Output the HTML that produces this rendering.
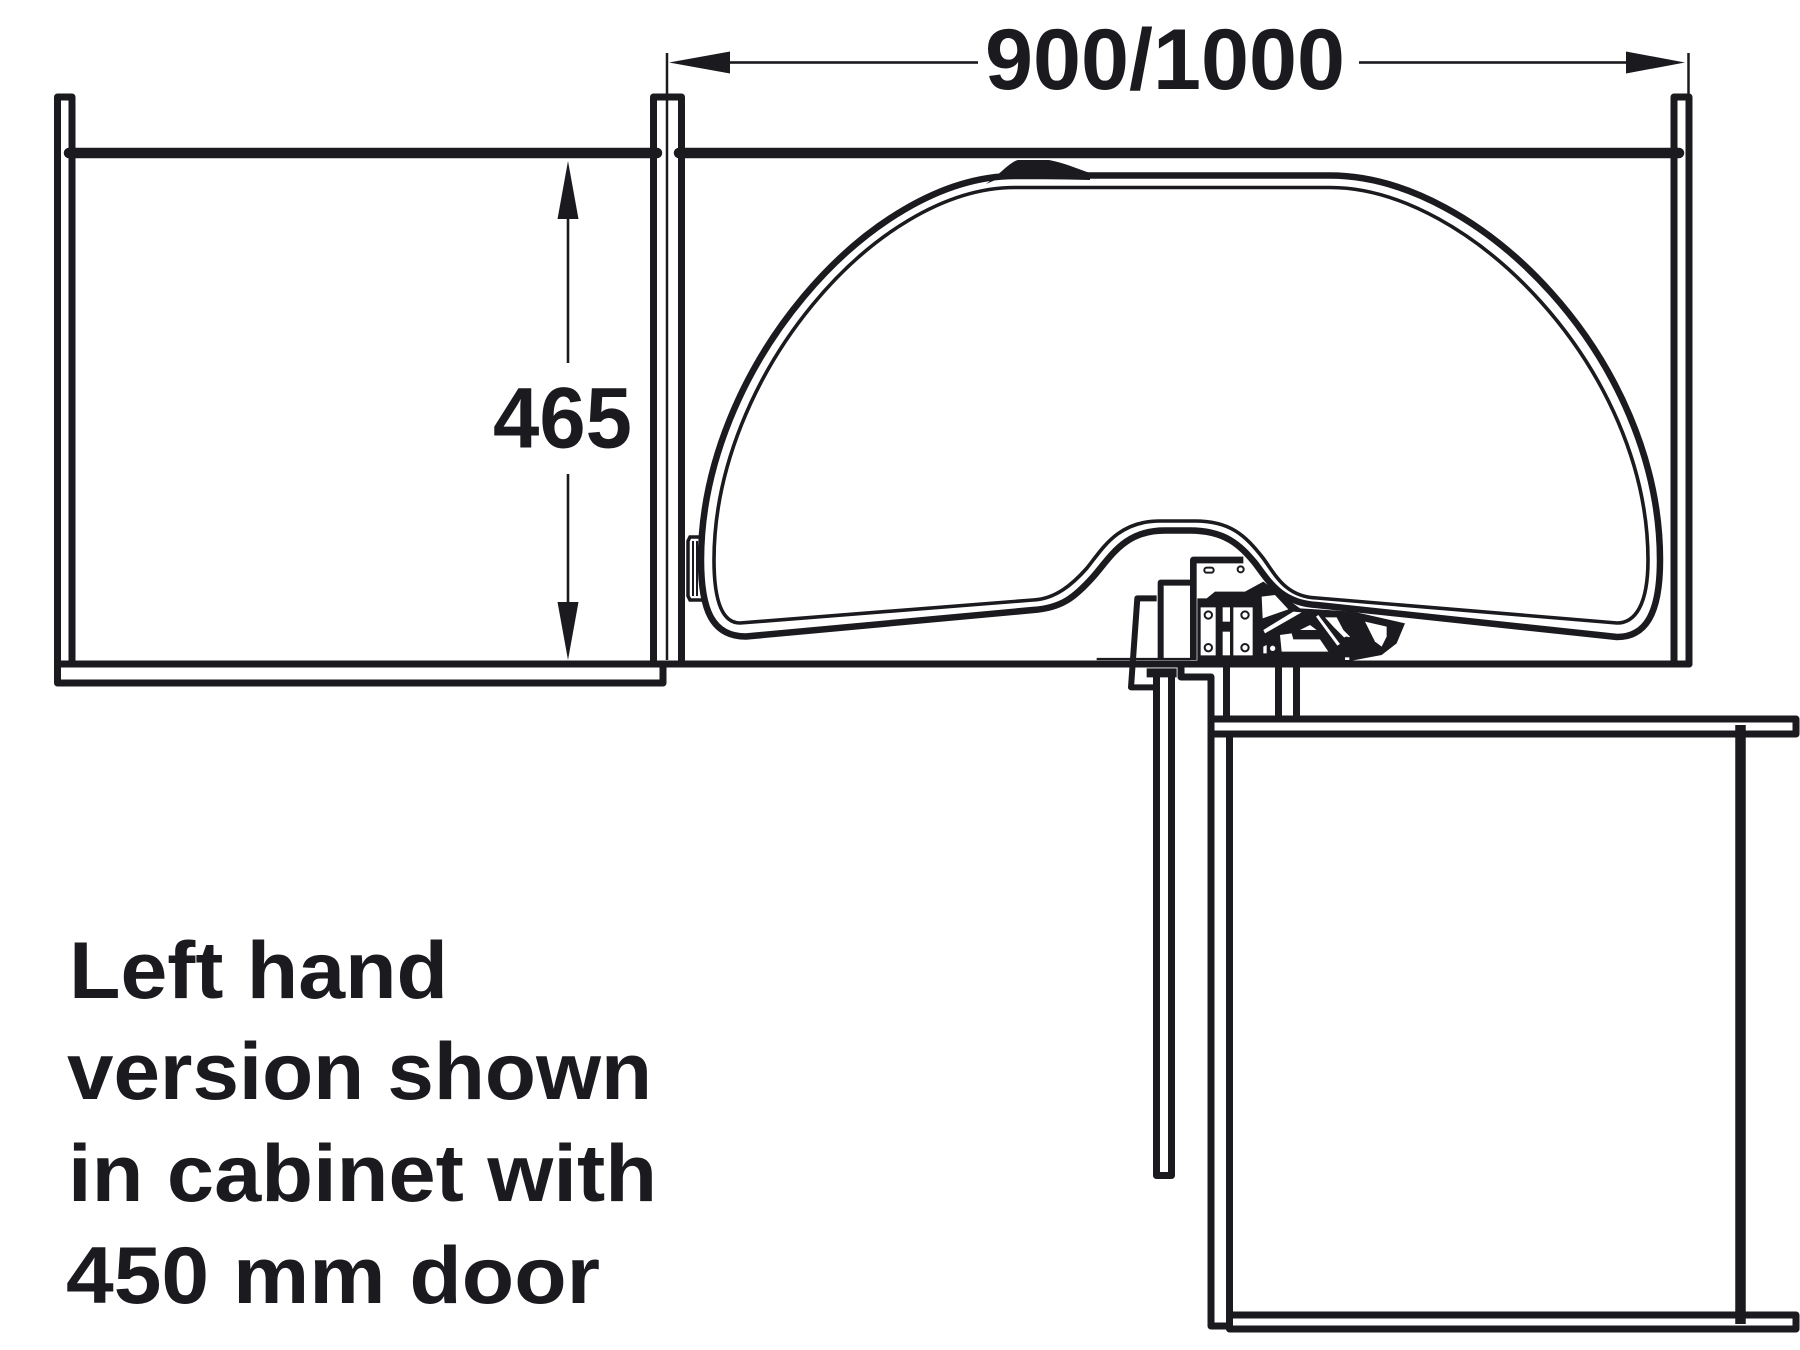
<!DOCTYPE html>
<html><head><meta charset="utf-8"><style>
html,body{margin:0;padding:0;background:#fff}
svg{display:block}
text{font-family:"Liberation Sans",sans-serif;font-weight:bold;fill:#1b1a1f}
</style></head><body>
<svg width="1800" height="1350" viewBox="0 0 1800 1350" xmlns="http://www.w3.org/2000/svg">
<rect width="1800" height="1350" fill="#fff"/>
<g fill="none" stroke="#1b1a1f" stroke-width="7" stroke-linejoin="round" stroke-linecap="round">
  <!-- left cabinet -->
  <path d="M57.5 664V97H72V664"/>
  <path d="M653.5 664V97H681.5V664"/>
  <path d="M57.5 664V683H663V664"/>
  <path d="M57.5 664H1689"/>
  <path d="M1674 664V97H1689V664"/>
  <path d="M69 153H657M679 153H1679" stroke-width="10.5"/>
  <path d="M667 53V660" stroke-width="2.5" stroke-linecap="butt"/>
  <path d="M1688.5 53V95" stroke-width="2.5" stroke-linecap="butt"/>
  <!-- lower cabinet -->
  <path d="M1211 678V1326H1229"/>
  <path d="M1229.5 734V1329H1796V1315H1230"/>
  <path d="M1211 719H1796V734H1211"/>
  <path d="M1229.5 734V1315"/>
  <path d="M1740.5 725V1324" stroke-width="10.5" stroke-linecap="butt"/>
  <path d="M1156.5 675V1175.5H1171.5V675"/>
  <path d="M1226.5 666V719M1278.5 666V719M1296.5 666V719"/>
  <path d="M1181 668V677H1211V690"/>
</g>
<!-- top bump -->
<path d="M986 184C1000 174 1010 162 1018 160H1049C1065 163 1075 168 1090 173V180L1000 178Z" fill="#1b1a1f"/>
<!-- knob -->
<g fill="#fff" stroke="#1b1a1f" stroke-width="3.5">
  <path d="M700 537H690L688 541V596L690 600H702"/>
  <path d="M693 541V596M697 541V596" fill="none" stroke-width="2"/>
</g>
<!-- dimension arrows -->
<g fill="#1b1a1f" stroke="none">
  <path d="M669 62.5L730 51.5V73.5Z"/>
  <path d="M1685 62.5L1626 51.5V73.5Z"/>
  <path d="M568 161L557.5 219H578.5Z"/>
  <path d="M568 660L557.5 602H578.5Z"/>
  <rect x="730" y="61.2" width="248" height="2.6"/>
  <rect x="1359" y="61.2" width="267" height="2.6"/>
  <rect x="566.7" y="219" width="2.6" height="144"/>
  <rect x="566.7" y="474" width="2.6" height="128"/>
</g>
<!-- mechanism, coordinates scaled 3x -->
<g transform="translate(1000 480) scale(.33333)" fill="none" stroke="#1b1a1f" stroke-linejoin="round">
  <path d="M290 537H570" stroke-width="7"/>
  <path d="M470 355H412L393 622H465" stroke-width="18"/>
  <path d="M440 565H530V592H440Z" fill="#1b1a1f" stroke="none"/>
  <path d="M482 540V308H580" stroke-width="18"/>
  <path d="M580 540V240H730" stroke-width="20"/>
  <path d="M592 355H620L645 335H735L790 305L900 385L1060 395L1215 430L1190 490L1145 525L1040 545H592Z" fill="#1b1a1f" stroke="none"/>
  <g fill="#fff" stroke="none">
    <path d="M602 382H647V526H602Z"/>
    <path d="M668 382H690V425H668Z"/>
    <path d="M668 455H690V526H668Z"/>
    <path d="M700 382H758V526H700Z"/>
    <path d="M785 350L825 345L865 388L788 415Z"/>
    <path d="M790 450L880 395L905 397L795 460Z"/>
    <path d="M900 450L930 435L950 450Z"/>
    <path d="M840 465L875 460L880 478H960L985 515H845Z"/>
    <path d="M790 500L800 495V520H790Z"/>
    <path d="M948 410L955 405L1020 492L1012 497Z"/>
    <path d="M975 412H1010L1030 450L1050 470L1038 478L1000 440Z"/>
    <path d="M1095 425L1160 440L1160 470L1145 500L1125 485Z"/>
    <path d="M1035 532H1048V540H1035Z"/>
  </g>
  <g stroke-width="6" fill="#fff">
    <circle cx="625" cy="405" r="11"/><circle cx="735" cy="405" r="11"/>
    <circle cx="625" cy="503" r="11"/><circle cx="735" cy="503" r="11"/>
    <circle cx="818" cy="505" r="11"/>
    <rect x="613" y="263" width="28" height="15" rx="7"/>
    <circle cx="722" cy="268" r="9"/>
  </g>
  <circle cx="1040" cy="482" r="12" fill="#1b1a1f" stroke="none"/>
  <circle cx="678" cy="441" r="4" fill="#1b1a1f" stroke="none"/>
</g>
<!-- basket rail -->
<g fill="none" stroke="#1b1a1f" stroke-linejoin="round" stroke-linecap="round">
  <path d="M1086 175.5H1330C1480 175.5 1660 360 1660 560C1660 615 1645 637 1617 637L1317 605C1280 603 1268 580 1255 563C1240 545 1225 530.5 1190 530.5H1165C1125 530.5 1112 555 1093 577C1075 597 1062 608 1033 610L746 636.5C712 636.5 701 610 701 560C701 370 870 176 1015 176H1086" stroke-width="6.5"/>
  <path d="M1015 187.5H1330C1470 187.5 1648 370 1648 560C1648 605 1635 623 1617 623L1317 598C1285 597 1275 574 1263 558C1245 535 1230 521 1195 521H1160C1118 521 1103 548 1087 568C1072 585 1055 599 1033 600L740 623C722 623 714 600 714 560C714 378 875 187.5 1015 187.5Z" stroke-width="3.6"/>
</g>
<!-- labels -->
<text x="985" y="89" font-size="86" textLength="360" lengthAdjust="spacingAndGlyphs">900/1000</text>
<text x="493" y="447.5" font-size="86" textLength="139" lengthAdjust="spacingAndGlyphs">465</text>
<text x="69" y="998" font-size="81" textLength="379" lengthAdjust="spacingAndGlyphs">Left hand</text>
<text x="67" y="1099" font-size="81" textLength="585" lengthAdjust="spacingAndGlyphs">version shown</text>
<text x="68" y="1201" font-size="81" textLength="589" lengthAdjust="spacingAndGlyphs">in cabinet with</text>
<text x="66" y="1303" font-size="81" textLength="534" lengthAdjust="spacingAndGlyphs">450 mm door</text>
</svg>
</body></html>
